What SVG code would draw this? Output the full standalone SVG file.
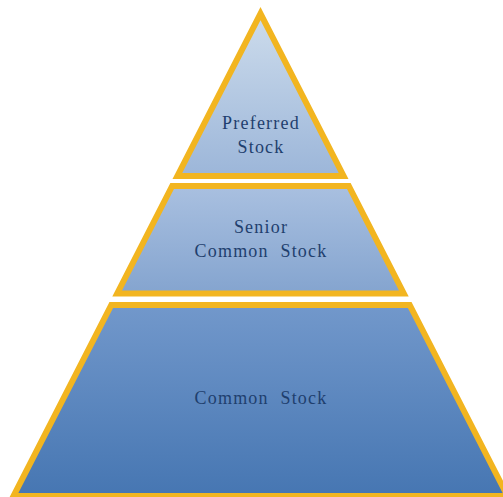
<svg xmlns="http://www.w3.org/2000/svg" width="503" height="497" viewBox="0 0 503 497">
  <defs>
    <linearGradient id="gTop" x1="0" y1="0" x2="0" y2="1">
      <stop offset="0" stop-color="#cddcec"/>
      <stop offset="1" stop-color="#9cb6d9"/>
    </linearGradient>
    <linearGradient id="gMid" x1="0" y1="0" x2="0" y2="1">
      <stop offset="0" stop-color="#a9c0e0"/>
      <stop offset="1" stop-color="#84a4cf"/>
    </linearGradient>
    <linearGradient id="gBot" x1="0" y1="0" x2="0" y2="1">
      <stop offset="0" stop-color="#7298cb"/>
      <stop offset="1" stop-color="#4676b2"/>
    </linearGradient>
  </defs>
  <style>
    .tier { stroke: #f2b520; stroke-width: 6; stroke-linejoin: miter; stroke-miterlimit: 10; }
    .lbl { font-family: "Liberation Serif", "DejaVu Serif", serif; font-size: 18px; fill: #1f3f6e; text-anchor: middle; letter-spacing: 1.2px; word-spacing: 6px; }
  </style>
  <rect width="503" height="497" fill="#ffffff"/>
  <g id="preferred-stock">
    <polygon class="tier" fill="url(#gTop)" points="260.5,13.6 343.6,176 177.4,176"/>
    <text class="lbl" x="261" y="129">Preferred</text>
    <text class="lbl" x="261" y="153">Stock</text>
  </g>
  <g id="senior-common-stock">
    <polygon class="tier" fill="url(#gMid)" points="172.2,186 348.8,186 403.8,293.5 117.2,293.5"/>
    <text class="lbl" x="261" y="233">Senior</text>
    <text class="lbl" x="261" y="257">Common Stock</text>
  </g>
  <g id="common-stock">
    <polygon class="tier" fill="url(#gBot)" points="111.3,305 409.7,305 507.5,496 13.5,496"/>
    <text class="lbl" x="261" y="404">Common Stock</text>
  </g>
  <g id="connectors"/>
</svg>
